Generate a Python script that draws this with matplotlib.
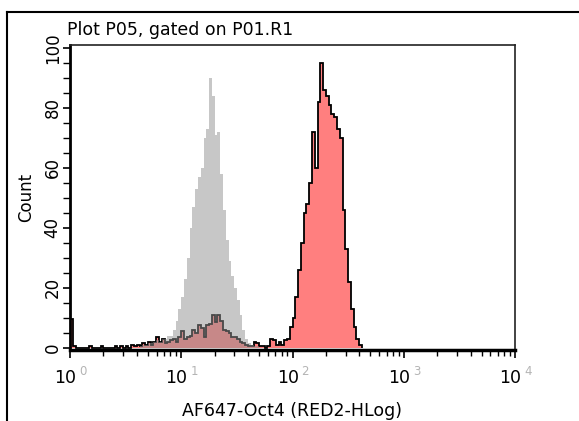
import numpy as np
import matplotlib
matplotlib.use("Agg")
import matplotlib.pyplot as plt
from matplotlib.ticker import MultipleLocator, LogLocator, NullFormatter
from matplotlib.lines import Line2D

# histogram bins: width in log10 units, first bin start (log10)
bin_w = 0.025

# isotype / control (grey), first bin starts at 10^0.60
gray_start = 0.60
gray_counts = [0, 0.5, 1, 1, 1.5, 1.5, 2, 2.5, 2, 3, 3, 4, 4, 6, 9, 13,
               17, 23, 30, 40, 47, 53, 57, 60, 70, 73, 90, 84, 71, 72, 58, 46,
               36, 29, 24, 20, 16, 11, 6, 3, 1.5, 1, 0.5, 0.5]

# AF647-Oct4 stained sample (red), first bin starts at 10^0
red_start = 0.0
red_counts = [9.5, 0.5, 0, 0, 0, 0, 0, 0.5, 0, 0, 0, 0.5, 0, 0, 0, 0,
              0.5, 0, 0.5, 0, 0.5, 0, 1, 0.5, 1, 0.5, 1.5, 1, 2, 1, 2, 3.5,
              2, 3, 1.5, 2, 2.5, 3, 2, 3.5, 5.5, 3, 3.5, 4, 6, 5, 7.5, 6.5,
              3.5, 7.5, 8, 11, 8.5, 11, 9, 6, 5.5, 5, 3.5, 3.5, 3, 2, 1.5, 1,
              0.5, 0.5, 2, 1.5, 0.5, 0.5, 0, 0.5, 3, 2.5, 1, 2, 1, 2.5, 3, 7,
              10, 17, 26, 35, 45, 48, 55, 72, 60, 82, 95, 86, 84, 81, 78, 77,
              73, 70, 46, 33, 22, 13, 7, 3, 1]

title = "Plot P05, gated on P01.R1"
xlabel = "AF647-Oct4 (RED2-HLog)"
ylabel = "Count"
decades = [0, 1, 2, 3, 4]

fig = plt.figure(figsize=(5.79, 4.21), dpi=100)
ax = fig.add_axes([70/579, 1-350/421, 445/579, 305/421])

red_edges = 10 ** (red_start + bin_w * np.arange(len(red_counts) + 1))
gray_edges = 10 ** (gray_start + bin_w * np.arange(len(gray_counts) + 1))

ax.stairs(red_counts, red_edges, fill=True, color="#ff7f7f", lw=0)
ax.stairs(red_counts, red_edges, color="black", lw=1.3)
ax.stairs(gray_counts, gray_edges, fill=True, color="#919191", alpha=0.5, lw=0)

ax.set_xscale("log")
ax.set_xlim(1, 1e4)
ax.set_ylim(-0.8, 101)

ax.yaxis.set_major_locator(MultipleLocator(20))
ax.yaxis.set_minor_locator(MultipleLocator(5))
ax.xaxis.set_major_locator(LogLocator(base=10, numticks=10))
ax.xaxis.set_minor_locator(LogLocator(base=10, subs=np.arange(2, 10), numticks=10))
ax.xaxis.set_major_formatter(NullFormatter())
ax.xaxis.set_minor_formatter(NullFormatter())

ax.tick_params(axis="both", which="both", direction="out", color="black")
ax.tick_params(axis="x", which="major", length=6, width=1.2)
ax.tick_params(axis="x", which="minor", length=4, width=1)
ax.tick_params(axis="y", which="major", length=5, width=1.2, labelsize=12, pad=1)
ax.tick_params(axis="y", which="minor", length=5, width=1)
for lab in ax.get_yticklabels():
    lab.set_rotation(90)
    lab.set_va("center")

for side in ["top", "right"]:
    ax.spines[side].set_linewidth(1.2)
    ax.spines[side].set_color("#222222")
ax.spines["left"].set_linewidth(2)
ax.spines["bottom"].set_linewidth(2.5)

# "10" with a pale exponent, like the instrument software draws it
for d in decades:
    ax.annotate("10", xy=(10 ** d, 0), xycoords=("data", "axes fraction"),
                xytext=(-3.5, -14), textcoords="offset points",
                ha="center", va="top", fontsize=12.5)
    ax.annotate(str(d), xy=(10 ** d, 0), xycoords=("data", "axes fraction"),
                xytext=(6.5, -11), textcoords="offset points",
                ha="left", va="top", fontsize=8.5, color="#b4b4b4")

ax.set_xlabel(xlabel, fontsize=12.5, labelpad=28)
ax.set_ylabel(ylabel, fontsize=12, labelpad=6)

fig.text(67/579, 1-30/421, title, fontsize=12.5, va="center", ha="left")

# outer frame of the plot window
fig.add_artist(Line2D([7/579, 1], [1-12/421, 1-12/421], transform=fig.transFigure,
                      color="black", lw=1.5))
fig.add_artist(Line2D([7/579, 7/579], [0, 1-12/421], transform=fig.transFigure,
                      color="black", lw=1.5))

fig.savefig("out.png", dpi=100)
